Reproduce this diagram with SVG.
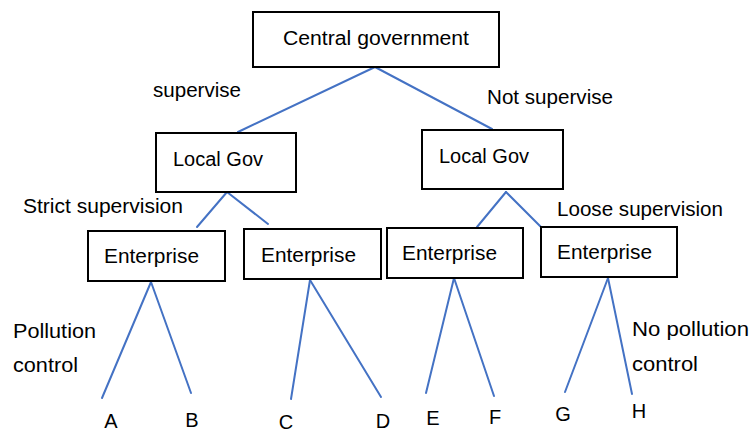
<svg xmlns="http://www.w3.org/2000/svg" width="752" height="433" viewBox="0 0 752 433">
<style>
.box{fill:#fff;stroke:#000;stroke-width:2}
.t{font-family:"Liberation Sans",Arial,sans-serif;font-size:20px;fill:#000}
.c line{stroke:#4472C4;stroke-width:2;stroke-linecap:round}
</style>
<rect width="752" height="433" fill="#fff"/>
<g class="c" id="connectors">
<line x1="375" y1="67" x2="238" y2="132"/>
<line x1="375" y1="67" x2="492" y2="129"/>
<line x1="227" y1="192" x2="197" y2="227"/>
<line x1="227" y1="192" x2="268" y2="224"/>
<line x1="506" y1="192" x2="477" y2="227"/>
<line x1="506" y1="192" x2="541" y2="227"/>
<line x1="151" y1="282" x2="102" y2="398"/>
<line x1="151" y1="282" x2="191" y2="393"/>
<line x1="310" y1="280" x2="291" y2="399"/>
<line x1="310" y1="280" x2="381" y2="397"/>
<line x1="454" y1="278" x2="426" y2="393"/>
<line x1="454" y1="278" x2="494" y2="396"/>
<line x1="608" y1="278" x2="565" y2="392"/>
<line x1="608" y1="278" x2="632" y2="394"/>
</g>
<g id="central">
<rect class="box" x="253" y="12" width="246" height="55"/>
<text class="t" x="283" y="45" textLength="186" lengthAdjust="spacingAndGlyphs">Central government</text>
</g>
<g id="localgov-left">
<rect class="box" x="156" y="133" width="140" height="59"/>
<text class="t" x="173" y="166" textLength="90" lengthAdjust="spacingAndGlyphs">Local Gov</text>
</g>
<g id="localgov-right">
<rect class="box" x="422" y="130" width="141" height="59"/>
<text class="t" x="439" y="163" textLength="90" lengthAdjust="spacingAndGlyphs">Local Gov</text>
</g>
<g id="enterprise-1">
<rect class="box" x="88" y="231" width="137" height="50"/>
<text class="t" x="104" y="263" textLength="95" lengthAdjust="spacingAndGlyphs">Enterprise</text>
</g>
<g id="enterprise-2">
<rect class="box" x="244" y="229" width="137" height="50"/>
<text class="t" x="261" y="262" textLength="95" lengthAdjust="spacingAndGlyphs">Enterprise</text>
</g>
<g id="enterprise-3">
<rect class="box" x="387" y="228" width="136" height="50"/>
<text class="t" x="402" y="260" textLength="95" lengthAdjust="spacingAndGlyphs">Enterprise</text>
</g>
<g id="enterprise-4">
<rect class="box" x="541" y="227" width="136" height="50"/>
<text class="t" x="557" y="259" textLength="95" lengthAdjust="spacingAndGlyphs">Enterprise</text>
</g>
<g id="labels">
<text class="t" x="153" y="97" textLength="88" lengthAdjust="spacingAndGlyphs">supervise</text>
<text class="t" x="487" y="104" textLength="126" lengthAdjust="spacingAndGlyphs">Not supervise</text>
<text class="t" x="23" y="213" textLength="160" lengthAdjust="spacingAndGlyphs">Strict supervision</text>
<text class="t" x="557" y="216" textLength="166" lengthAdjust="spacingAndGlyphs">Loose supervision</text>
<text class="t" x="13" y="338" textLength="83" lengthAdjust="spacingAndGlyphs">Pollution</text>
<text class="t" x="13" y="372" textLength="65" lengthAdjust="spacingAndGlyphs">control</text>
<text class="t" x="632" y="336" textLength="117" lengthAdjust="spacingAndGlyphs">No pollution</text>
<text class="t" x="632" y="371" textLength="66" lengthAdjust="spacingAndGlyphs">control</text>
</g>
<g id="leaves" text-anchor="middle">
<text class="t" x="111" y="428">A</text>
<text class="t" x="192" y="427">B</text>
<text class="t" x="286" y="429">C</text>
<text class="t" x="383" y="428">D</text>
<text class="t" x="433" y="425">E</text>
<text class="t" x="495" y="424">F</text>
<text class="t" x="563" y="421">G</text>
<text class="t" x="639" y="418">H</text>
</g>
</svg>
